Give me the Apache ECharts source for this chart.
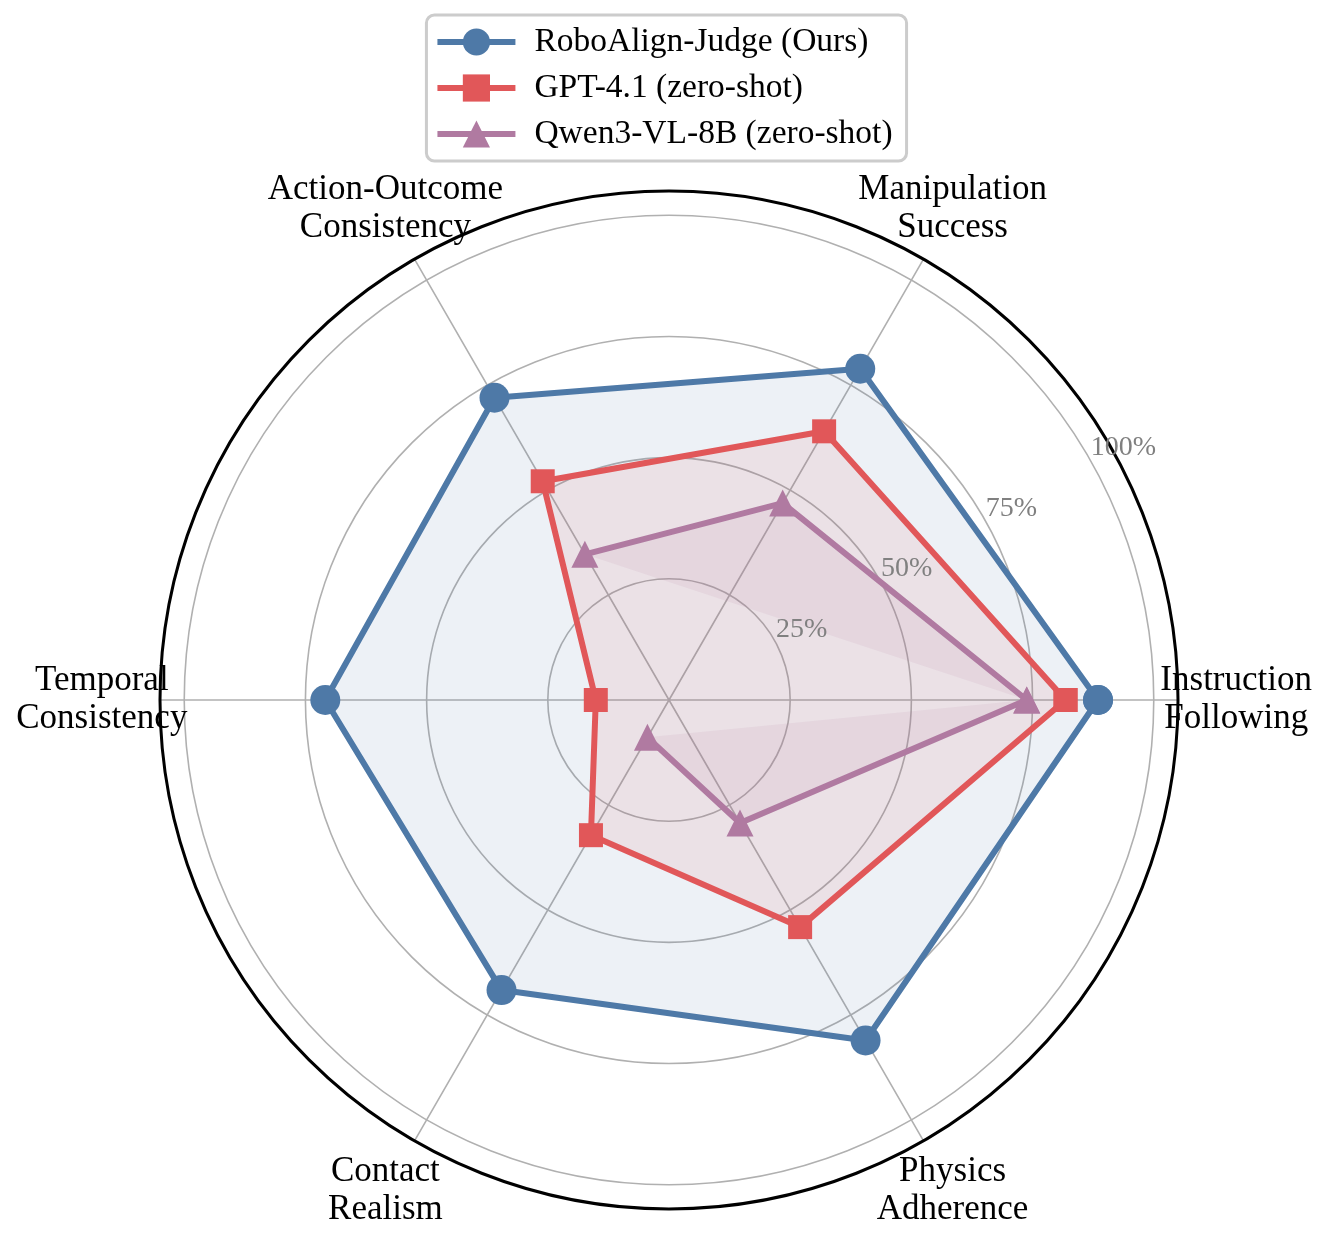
<!DOCTYPE html>
<html>
<head>
<meta charset="utf-8">
<script src="https://cdn.jsdelivr.net/npm/echarts@6/dist/echarts.min.js"></script>
<style>
  html, body { margin: 0; background: #ffffff; }
  #chart { width: 1327px; height: 1240px; }
</style>
</head>
<body>
<div id="chart"></div>
<script>
// radar axes, counter-clockwise from the right
const categories = [
  'Instruction\nFollowing',
  'Manipulation\nSuccess',
  'Action-Outcome\nConsistency',
  'Temporal\nConsistency',
  'Contact\nRealism',
  'Physics\nAdherence'
];
const seriesNames = ['RoboAlign-Judge (Ours)', 'GPT-4.1 (zero-shot)', 'Qwen3-VL-8B (zero-shot)'];
const roboAlignJudge = [88.5, 78.9, 72.0, 70.9, 69.1, 81.1];
const gpt41 = [81.8, 64.0, 52.1, 15.1, 32.2, 54.1];
const qwen3vl = [73.8, 46.9, 34.7, null, 8.9, 29.3];   // temporal score missing
const radialTicks = [25, 50, 75, 100];
const radialTickLabels = ['25%', '50%', '75%', '100%'];

const FONT = '"Liberation Serif", "Times New Roman", serif';
const colors = ['#4E79A7', '#E15759', '#B07AA1'];
const symbols = ['circle', 'rect', 'triangle'];
const symbolSizes = [30, 24, 27];
const step = 360 / categories.length;
const LABEL_R = 117;     // category labels sit just outside the frame
const RLABEL_ANGLE = 30;

const chart = echarts.init(document.getElementById('chart'), null, { renderer: 'canvas' });

// [radius, angle] pairs, closed back to the first axis
function toPolar(values) {
  const pts = values.map((v, i) => [v == null ? '-' : v, i * step]);
  pts.push([values[0] == null ? '-' : values[0], 360]);
  return pts;
}

// translucent fill, split where a value is missing (like matplotlib's fill with NaN)
function fillSeries(values, color) {
  return {
    type: 'custom',
    coordinateSystem: 'polar',
    silent: true,
    z: 1,
    data: [[0, 0]],
    renderItem(params, api) {
      const ring = values.concat([values[0]]);
      const parts = [];
      let cur = [];
      ring.forEach((v, i) => {
        if (v == null) {
          if (cur.length) parts.push(cur);
          cur = [];
        } else {
          cur.push(api.coord([v, i * step]));
        }
      });
      if (cur.length) parts.push(cur);
      return {
        type: 'group',
        children: parts.filter(p => p.length > 2).map(p => ({
          type: 'polygon',
          shape: { points: p },
          style: { fill: echarts.color.modifyAlpha(color, 0.1) }
        }))
      };
    }
  };
}

const series = [];
[roboAlignJudge, gpt41, qwen3vl].forEach((vals, k) => {
  series.push(fillSeries(vals, colors[k]));
  series.push({
    name: seriesNames[k],
    type: 'line',
    coordinateSystem: 'polar',
    data: toPolar(vals),
    symbol: symbols[k],
    symbolSize: symbolSizes[k],
    showSymbol: true,
    connectNulls: false,
    itemStyle: { color: colors[k] },
    lineStyle: { color: colors[k], width: 6 },
    z: 3 + k
  });
});

// category labels
series.push({
  type: 'custom',
  coordinateSystem: 'polar',
  silent: true,
  z: 10,
  data: categories.map((c, i) => [LABEL_R, i * step]),
  renderItem(params, api) {
    const p = api.coord([api.value(0), api.value(1)]);
    return {
      type: 'text',
      x: p[0],
      y: p[1],
      style: {
        text: categories[params.dataIndex],
        fill: '#000000',
        font: '35px ' + FONT,
        align: 'center',
        verticalAlign: 'middle',
        lineHeight: 38
      }
    };
  }
});

// radial tick labels along 30 degrees
series.push({
  type: 'custom',
  coordinateSystem: 'polar',
  silent: true,
  z: 10,
  data: radialTicks.map(v => [v, RLABEL_ANGLE]),
  renderItem(params, api) {
    const p = api.coord([api.value(0), api.value(1)]);
    return {
      type: 'text',
      x: p[0] + 2,
      y: p[1] + 4,
      style: {
        text: radialTickLabels[params.dataIndex],
        fill: '#808080',
        font: '28px ' + FONT,
        align: 'left',
        verticalAlign: 'bottom'
      }
    };
  }
});

chart.setOption({
  animation: false,
  backgroundColor: '#ffffff',
  legend: {
    data: seriesNames,
    orient: 'vertical',
    left: 'center',
    top: 15,
    itemWidth: 78,
    itemHeight: 34,
    itemGap: 12,
    padding: [10, 14, 10, 8],
    borderColor: '#cccccc',
    borderWidth: 3,
    borderRadius: 8,
    backgroundColor: '#ffffff',
    lineStyle: { width: 6 },
    textStyle: { fontFamily: FONT, fontSize: 33.5, color: '#000000', lineHeight: 34, padding: [0, 0, 0, 14] }
  },
  polar: { center: [669, 700], radius: 509 },
  radiusAxis: {
    min: 0,
    max: 105,
    interval: 25,
    axisLine: { show: false },
    axisTick: { show: false },
    axisLabel: { show: false },
    splitLine: { lineStyle: { color: '#b0b0b0', width: 1.6 } }
  },
  angleAxis: {
    type: 'value',
    min: 0,
    max: 360,
    interval: step,
    startAngle: 0,
    clockwise: false,
    axisLine: { lineStyle: { color: '#000000', width: 3 } },
    axisTick: { show: false },
    axisLabel: { show: false },
    splitLine: { lineStyle: { color: '#b0b0b0', width: 1.6 } }
  },
  series: series
});
</script>
</body>
</html>
